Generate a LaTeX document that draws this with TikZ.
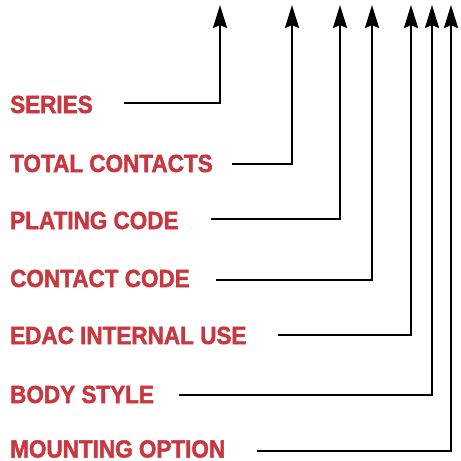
\documentclass[tikz,border=0pt]{standalone}
\usepackage{fontspec}
\setmainfont{Liberation Sans}[BoldFeatures={FakeBold=2}]
\usetikzlibrary{arrows.meta}
\definecolor{labred}{RGB}{200,56,64}
\newcommand{\lbltext}[1]{\scalebox{1}[1.1]{#1}}
\tikzset{
  lbl/.style={anchor=base west, inner sep=0pt, text depth=0pt, text=labred, font=\fontsize{22.5}{22}\selectfont\bfseries},
  lead/.style={line width=2.8pt, draw=black, miter limit=10, -{Stealth[length=23pt,width=14pt,inset=3pt]}}
}
\begin{document}
\begin{tikzpicture}[x=1pt,y=-1pt]
\useasboundingbox (0,0) rectangle (461,461);
\node[lbl] (l1) at (10,113) {\lbltext{SERIES}};
\node[lbl] (l2) at (10,172) {\lbltext{TOTAL CONTACTS}};
\node[lbl] (l3) at (10,229) {\lbltext{PLATING CODE}};
\node[lbl] (l4) at (10,287) {\lbltext{CONTACT CODE}};
\node[lbl] (l5) at (10,344) {\lbltext{EDAC INTERNAL USE}};
\node[lbl] (l6) at (10,403) {\lbltext{BODY STYLE}};
\node[lbl] (l7) at (10,457.5) {\lbltext{MOUNTING OPTION}};
\coordinate (s1) at (124,103); \coordinate (t1) at (220,5);
\coordinate (s2) at (232,164); \coordinate (t2) at (292,5);
\coordinate (s3) at (211,219); \coordinate (t3) at (340,5);
\coordinate (s4) at (216,280); \coordinate (t4) at (372,5);
\coordinate (s5) at (278,335); \coordinate (t5) at (411,5);
\coordinate (s6) at (179,395); \coordinate (t6) at (432,5);
\coordinate (s7) at (257,451); \coordinate (t7) at (451,5);
\foreach \i in {1,...,7} {\draw[lead] (s\i) -| (t\i);}
\end{tikzpicture}
\end{document}
